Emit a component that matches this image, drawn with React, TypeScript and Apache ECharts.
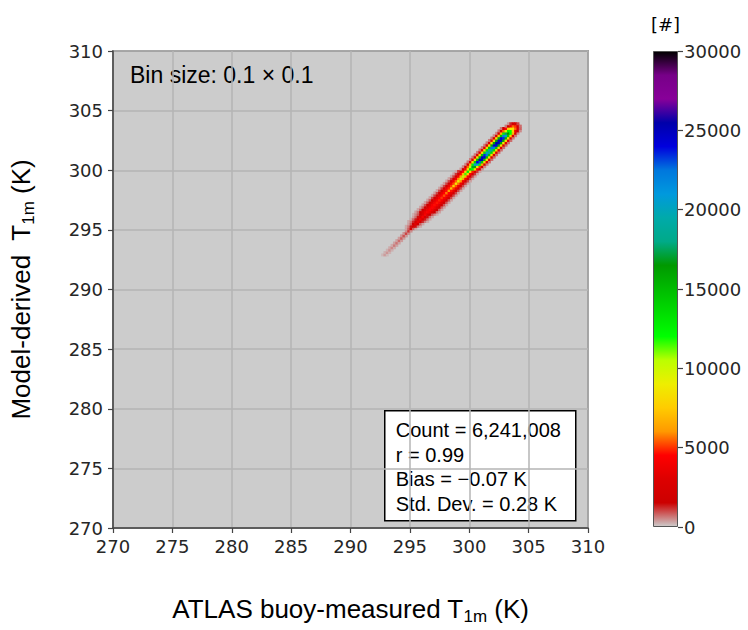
import { useEffect, useRef } from 'react';
import * as echarts from 'echarts';

// Histogram bin footprint (K) used for the drawn cells
const BIN = 0.2;

// Bottom edge (model-derived T, K) of each histogram row
const rowY = [
  292.8, 293.0, 293.2, 293.4, 293.6, 293.8, 294.0, 294.2, 294.4, 294.6, 294.8,
  295.0, 295.2, 295.4, 295.6, 295.8, 296.0, 296.2,
  296.4, 296.6, 296.8, 297.0, 297.2, 297.4, 297.6, 297.8, 298.0, 298.2, 298.4,
  298.6, 298.8, 299.0, 299.2, 299.4, 299.6, 299.8,
  300.0, 300.2, 300.4, 300.6, 300.8, 301.0, 301.2, 301.4, 301.6, 301.8,
  302.0, 302.2, 302.4, 302.6, 302.8, 303.0, 303.2, 303.4, 303.6, 303.8,
];

// Left edge (buoy-measured T, K) of the first populated bin in each row
const rowX0 = [
  292.6, 292.8, 293.0, 293.2, 293.4, 293.6, 293.8, 294.0, 294.2, 294.4, 294.6,
  294.6, 294.6, 294.8, 294.8, 295.0, 295.2, 295.2,
  295.4, 295.6, 295.8, 296.0, 296.2, 296.4, 296.6, 296.8, 297.0, 297.2, 297.4,
  297.6, 297.8, 298.0, 298.2, 298.4, 298.6, 298.8,
  299.2, 299.4, 299.6, 299.8, 300.0, 300.2, 300.4, 300.6, 300.8, 301.0,
  301.2, 301.4, 301.6, 301.8, 302.0, 302.2, 302.4, 302.6, 303.0, 303.2,
];

// Counts per bin, left to right, for each row
const rowCounts = [
  [150, 350, 150],
  [200, 400, 200],
  [200, 450, 200],
  [250, 500, 250],
  [250, 600, 300],
  [300, 650, 300],
  [300, 700, 350],
  [350, 800, 350],
  [400, 900, 400],
  [400, 1000, 450],
  [450, 1100, 450],
  [300, 800, 1800, 800, 300],
  [250, 600, 1400, 2600, 1400, 600, 250],
  [300, 800, 1800, 3200, 1800, 800, 300],
  [250, 600, 1200, 2300, 3600, 2300, 1200, 600, 250],
  [250, 700, 1300, 2500, 3900, 2500, 1300, 700, 250],
  [300, 700, 1400, 2600, 4100, 2600, 1400, 700, 300],
  [200, 500, 900, 1500, 2700, 4200, 2700, 1500, 900, 500, 200],
  [300, 700, 1500, 2700, 3700, 4300, 3700, 2700, 1500, 700, 300],
  [300, 800, 1600, 2800, 3800, 4400, 3800, 2800, 1600, 800, 300],
  [300, 800, 1700, 2900, 3900, 4500, 3900, 2900, 1700, 800, 300],
  [300, 900, 1800, 3000, 4000, 4600, 4000, 3000, 1800, 900, 300],
  [300, 900, 1900, 3100, 4100, 4700, 4100, 3100, 1900, 900, 300],
  [300, 900, 1900, 3200, 4200, 4800, 4200, 3200, 1900, 900, 300],
  [300, 1000, 2000, 3300, 4300, 5000, 4300, 3300, 2000, 1000, 300],
  [300, 1000, 2000, 3400, 4400, 5300, 4400, 3400, 2000, 1000, 300],
  [300, 1000, 2100, 3500, 4500, 5700, 4500, 3500, 2100, 1000, 300],
  [300, 1000, 2100, 3600, 4600, 6300, 4700, 3600, 2100, 1000, 300],
  [300, 1000, 2200, 3700, 4800, 7000, 5000, 3700, 2200, 1000, 300],
  [300, 1000, 2200, 3800, 5000, 7800, 5300, 3800, 2200, 1000, 300],
  [300, 1000, 2300, 3900, 5200, 8600, 5600, 3900, 2300, 1000, 300],
  [300, 1000, 2300, 4000, 5500, 9200, 6000, 4000, 2300, 1000, 300],
  [300, 1000, 2400, 4100, 5900, 9800, 6400, 4100, 2400, 1000, 300],
  [300, 1000, 2400, 4200, 6300, 10500, 6900, 4300, 2400, 1000, 300],
  [300, 1100, 2500, 4400, 6900, 11500, 7500, 4500, 2500, 1100, 300],
  [300, 1100, 2600, 4600, 7600, 12500, 8200, 4800, 2600, 1100, 300],
  [400, 1800, 4500, 8500, 13500, 12000, 8000, 4200, 1800, 400],
  [500, 2200, 5500, 10500, 17000, 15500, 9500, 5000, 2100, 500],
  [500, 2500, 6800, 12500, 21000, 20000, 12000, 6300, 2500, 600],
  [600, 2800, 7800, 14000, 24000, 23000, 14000, 7500, 2800, 700],
  [600, 2900, 8200, 15000, 25500, 25000, 15000, 8300, 3000, 700],
  [600, 2900, 8200, 15000, 25000, 24500, 15000, 8300, 3000, 700],
  [600, 2800, 8000, 14500, 23500, 22500, 14500, 8000, 2900, 700],
  [600, 2800, 7800, 13500, 20000, 19000, 13500, 7800, 2900, 700],
  [600, 2800, 7800, 13500, 19500, 19000, 13500, 7800, 2900, 700],
  [600, 2900, 8000, 14500, 22500, 22000, 14500, 8100, 3000, 700],
  [600, 3000, 8300, 15500, 24500, 24000, 15500, 8400, 3100, 700],
  [600, 3000, 8500, 16000, 25500, 25000, 16000, 8600, 3100, 700],
  [600, 3000, 8400, 16000, 25000, 24500, 15800, 8500, 3000, 700],
  [600, 2900, 8100, 15500, 24000, 23500, 15200, 8200, 2900, 600],
  [500, 2700, 7600, 14500, 22000, 21000, 14200, 7600, 2700, 600],
  [500, 2400, 6800, 12500, 17500, 16500, 12000, 6800, 2400, 500],
  [600, 2200, 5500, 9500, 12500, 12000, 8000, 4000, 1500, 500],
  [600, 1800, 4500, 7500, 9000, 8500, 5500, 2500, 800],
  [600, 1800, 4000, 5500, 5000, 2500, 700],
  [400, 1200, 2000, 2000, 1000],
];

// Axis ranges
const T_MIN = 270;
const T_MAX = 310;
const T_STEP = 5;
const COUNT_MAX = 30000;
const COUNT_STEP = 5000;

// Statistics annotation
const statLines = ['Count = 6,241,008', 'r = 0.99', 'Bias = \u22120.07 K', 'Std. Dev. = 0.28 K'];

// Reversed nipy_spectral, 21 evenly spaced stops from 0 to 1
const NIPY_R = [
  '#cccccc', '#cc0000', '#dd0000', '#ff0000', '#ff9900', '#ffcc00', '#eeee00',
  '#bbff00', '#00ff00', '#00dd00', '#00bb00', '#009900', '#00aa88', '#00aaaa',
  '#0099dd', '#0077dd', '#0000dd', '#0000aa', '#880099', '#770088', '#000000',
];

const TICK_FONT = 'DejaVu Sans';
const TEXT_FONT = 'Liberation Sans';

function buildCells(): number[][] {
  const cells: number[][] = [];
  rowY.forEach((y, i) => {
    rowCounts[i].forEach((c, k) => {
      const x = Math.round((rowX0[i] + k * BIN) * 10) / 10;
      cells.push([x, y, c]);
    });
  });
  return cells;
}

export default function App() {
  const ref = useRef<HTMLDivElement>(null);

  useEffect(() => {
    document.body.style.margin = '0';
    const chart = echarts.init(ref.current!, null, { renderer: 'svg' });

    const gradStops = NIPY_R.map((c, i) => ({ offset: i / (NIPY_R.length - 1), color: c }));

    const titleRich = {
      main: { fontFamily: TEXT_FONT, fontSize: 26, color: '#000', lineHeight: 32 },
      sub: { fontFamily: TEXT_FONT, fontSize: 17, color: '#000', lineHeight: 17, verticalAlign: 'bottom' },
    };

    chart.setOption({
      animation: false,
      grid: [
        {
          left: 111, top: 51, width: 477, height: 478,
          show: true, backgroundColor: '#cccccc', borderColor: '#555', borderWidth: 1.5,
        },
        { left: 653, top: 51, width: 25, height: 476 },
      ],
      xAxis: [
        {
          type: 'value', gridIndex: 0, min: T_MIN, max: T_MAX, interval: T_STEP,
          name: '{main|ATLAS buoy-measured T}{sub|1m}{main| (K)}',
          nameLocation: 'middle', nameGap: 65,
          nameTextStyle: { rich: titleRich },
          axisLine: { show: true, lineStyle: { color: '#444', width: 1.5 } },
          axisTick: { show: true, length: 5, lineStyle: { color: '#444', width: 1.2 } },
          axisLabel: { fontFamily: TICK_FONT, fontSize: 18, color: '#262626', margin: 9 },
          splitLine: { show: true, lineStyle: { color: '#b4b4b4', width: 1.5 } },
        },
        { type: 'category', gridIndex: 1, data: [''], show: false },
      ],
      yAxis: [
        {
          type: 'value', gridIndex: 0, min: T_MIN, max: T_MAX, interval: T_STEP,
          name: '{main|Model-derived  T}{sub|1m}{main| (K)}',
          nameLocation: 'middle', nameGap: 76,
          nameTextStyle: { rich: titleRich },
          axisLine: { show: true, lineStyle: { color: '#444', width: 1.5 } },
          axisTick: { show: true, length: 5, lineStyle: { color: '#444', width: 1.2 } },
          axisLabel: { fontFamily: TICK_FONT, fontSize: 18, color: '#262626', margin: 10 },
          splitLine: { show: true, lineStyle: { color: '#b4b4b4', width: 1.5 } },
        },
        {
          type: 'value', gridIndex: 1, position: 'right', min: 0, max: COUNT_MAX, interval: COUNT_STEP,
          axisLine: { show: false },
          axisTick: { show: true, length: 5, lineStyle: { color: '#444', width: 1.2 } },
          axisLabel: {
            fontFamily: TICK_FONT, fontSize: 18, color: '#262626', margin: 6,
            formatter: (v: number) => String(v),
          },
          splitLine: { show: false },
        },
      ],
      visualMap: {
        show: false, type: 'continuous', min: 0, max: COUNT_MAX,
        dimension: 2, seriesIndex: 0, inRange: { color: NIPY_R },
      },
      series: [
        {
          type: 'custom',
          xAxisIndex: 0, yAxisIndex: 0,
          data: buildCells(),
          renderItem: (_params: any, api: any) => {
            const x = api.value(0);
            const y = api.value(1);
            const tl = api.coord([x, y + BIN]);
            const br = api.coord([x + BIN, y]);
            return {
              type: 'rect',
              shape: { x: tl[0] - 0.3, y: tl[1] - 0.3, width: br[0] - tl[0] + 0.6, height: br[1] - tl[1] + 0.6 },
              style: { fill: api.visual('color') },
            };
          },
        },
        {
          type: 'bar', xAxisIndex: 1, yAxisIndex: 1,
          data: [COUNT_MAX], barWidth: '100%',
          itemStyle: {
            color: new echarts.graphic.LinearGradient(0, 1, 0, 0, gradStops),
            borderColor: '#555', borderWidth: 1,
          },
        },
      ],
      graphic: [
        {
          type: 'text', left: 130, top: 63,
          style: { text: 'Bin size: 0.1 \u00d7 0.1', fontFamily: TEXT_FONT, fontSize: 23, fill: '#000' },
        },
        {
          type: 'text', left: 651, top: 15,
          style: { text: '[#]', fontFamily: TICK_FONT, fontSize: 18, fill: '#000' },
        },
        {
          type: 'group', left: 384, top: 410,
          children: [
            {
              type: 'rect', shape: { x: 0, y: 0, width: 191, height: 110 },
              style: { fill: '#fff', stroke: '#000', lineWidth: 1.5 },
            },
            {
              type: 'text', x: 11, y: 7,
              style: { text: statLines.join('\n'), fontFamily: TEXT_FONT, fontSize: 20, lineHeight: 24.5, fill: '#000' },
            },
          ],
        },
      ],
    });

    return () => chart.dispose();
  }, []);

  return <div ref={ref} style={{ width: 748, height: 630 }} />;
}
